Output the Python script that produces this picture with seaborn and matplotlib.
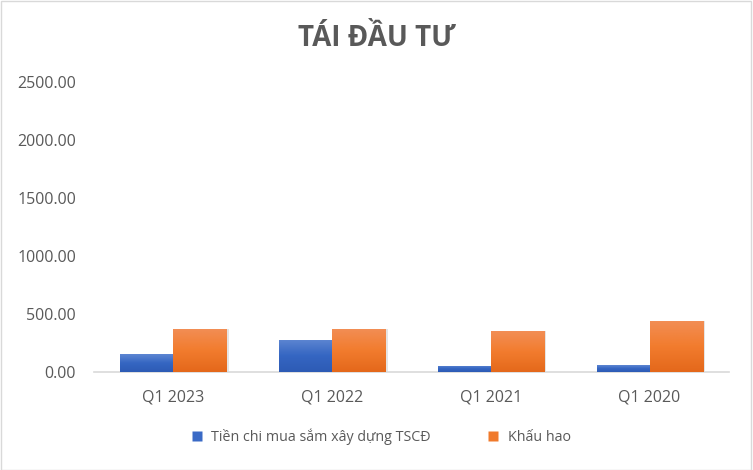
import numpy as np
import pandas as pd
import seaborn as sns
import matplotlib.pyplot as plt
from matplotlib.colors import LinearSegmentedColormap
from matplotlib.patches import Rectangle
from matplotlib.lines import Line2D

# --- DATA ---
quarters = ["Q1 2023", "Q1 2022", "Q1 2021", "Q1 2020"]
capex = [155, 276, 52, 60]          # Tiền chi mua sắm xây dựng TSCĐ
depreciation = [371, 371, 353, 440]  # Khấu hao
series_names = ["Tiền chi mua sắm xây dựng TSCĐ", "Khấu hao"]

df = pd.DataFrame({
    "Quarter": quarters * 2,
    "Series": [series_names[0]] * len(quarters) + [series_names[1]] * len(quarters),
    "Value": capex + depreciation,
})

sns.set_style("white")
plt.rcParams["font.family"] = ["Open Sans", "DejaVu Sans"]

blue_grad = ["#5D86D2", "#3566C2", "#2D5BB5"]
orange_grad = ["#F28E55", "#F27C2E", "#E4681B"]
legend_colors = ["#3A6AC6", "#F07A2C"]

fig = plt.figure(figsize=(7.53, 4.70), dpi=100)
ax = fig.add_axes([0.125, 0.209, 0.843, 0.617])

sns.barplot(data=df, x="Quarter", y="Value", hue="Series", order=quarters,
            hue_order=series_names, palette=legend_colors, width=0.668,
            legend=False, ax=ax)

# Excel style gradient fill + soft shadow
bars = list(ax.patches)
n = len(quarters)
for i, bar in enumerate(bars):
    cols = blue_grad if i < n else orange_grad
    x0, y0 = bar.get_x(), bar.get_y()
    w, h = bar.get_width(), bar.get_height()
    shadow = Rectangle((x0 + 0.015, y0), w, h, facecolor="#000000", alpha=0.10,
                       edgecolor="none", zorder=1.5)
    ax.add_patch(shadow)
    cmap = LinearSegmentedColormap.from_list("g", cols[::-1])
    grad = np.linspace(0, 1, 64).reshape(-1, 1)
    im = ax.imshow(grad, cmap=cmap, extent=[x0, x0 + w, y0, y0 + h],
                   origin="lower", aspect="auto", zorder=3)
    im.set_clip_path(bar)
    bar.set_facecolor("none")
    bar.set_edgecolor("none")
    bar.set_zorder(3)

ax.set_xlim(-0.5, n - 0.5)
ax.set_ylim(0, 2500)
ax.set_yticks(np.arange(0, 2501, 500))
ax.set_yticklabels([f"{v:.2f}" for v in np.arange(0, 2501, 500)])

for s in ["top", "right", "left"]:
    ax.spines[s].set_visible(False)
ax.spines["bottom"].set_color("#D9D9D9")
ax.spines["bottom"].set_linewidth(1.2)
ax.tick_params(axis="both", length=0, labelsize=11.5, labelcolor="#595959")
ax.tick_params(axis="y", pad=13)
ax.tick_params(axis="x", pad=13)
ax.set_xlabel("")
ax.set_ylabel("")

fig.text(0.5, 0.918, "TÁI ĐẦU TƯ", ha="center", va="center",
         fontsize=20, fontweight="bold", color="#595959")

handles = [Line2D([0], [0], marker="s", linestyle="none", markersize=7,
                  markerfacecolor=c, markeredgecolor="none") for c in legend_colors]
fig.legend(handles, series_names, loc="center", bbox_to_anchor=(0.5, 0.07),
           ncol=2, frameon=False, fontsize=10.3, labelcolor="#595959",
           handletextpad=0.0, columnspacing=3.4)

fig.patches.append(Rectangle((0.001, 0.001), 0.997, 0.997, transform=fig.transFigure,
                             fill=False, edgecolor="#D9D9D9", linewidth=1))

fig.savefig("out.png", dpi=100)
